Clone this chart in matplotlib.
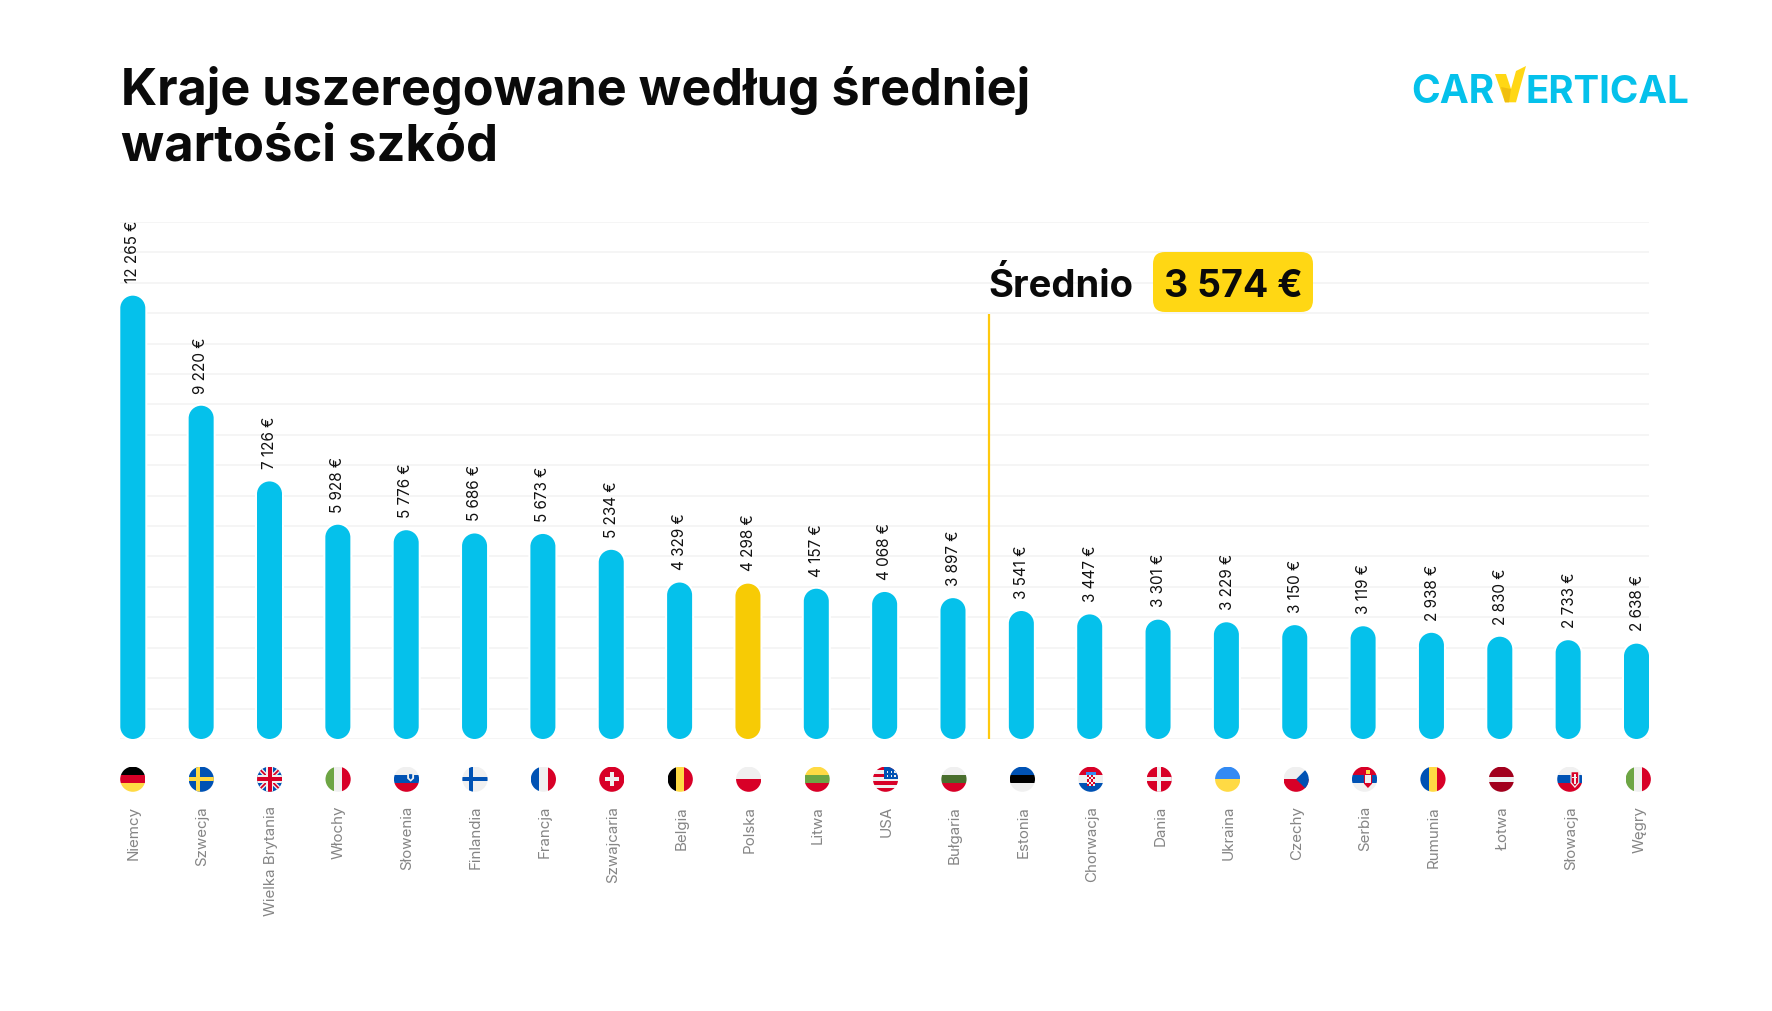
import numpy as np
import matplotlib
matplotlib.use("Agg")
import matplotlib.pyplot as plt
from matplotlib.patches import FancyBboxPatch, Rectangle, Circle, Polygon, PathPatch
from matplotlib.path import Path
from matplotlib.transforms import ScaledTranslation
import matplotlib.patheffects as pe

plt.rcParams['font.family'] = ['Inter', 'DejaVu Sans']

countries = ["Niemcy", "Szwecja", "Wielka Brytania", "Włochy", "Słowenia", "Finlandia", "Francja",
             "Szwajcaria", "Belgia", "Polska", "Litwa", "USA", "Bułgaria", "Estonia", "Chorwacja",
             "Dania", "Ukraina", "Czechy", "Serbia", "Rumunia", "Łotwa", "Słowacja", "Węgry"]
values = [12265, 9220, 7126, 5928, 5776, 5686, 5673, 5234, 4329, 4298, 4157, 4068, 3897,
          3541, 3447, 3301, 3229, 3150, 3119, 2938, 2830, 2733, 2638]
highlight = "Polska"
average_label = "Średnio"
average_value = 3574
flag_keys = ["de", "se", "gb", "it", "si", "fi", "fr", "ch", "be", "pl", "lt", "us", "bg",
             "ee", "hr", "dk", "ua", "cz", "rs", "ro", "lv", "sk", "it"]

W, H = 1772, 1012
CYAN, GOLD, YEL = "#05C1EB", "#F7CB05", "#FFD714"
RED, BLU, WHT, YLW, GRN = "#D80027", "#0052B4", "#F0F0F0", "#FFDA44", "#6DA544"
BLK, DGR, MAR, LBL = "#000000", "#496E2D", "#A2001D", "#338AF3"

fig = plt.figure(figsize=(W / 100, H / 100), dpi=100, facecolor="white")


def px_axes(l, t, r, b):
    return [l / W, 1 - b / H, (r - l) / W, (b - t) / H]


# main chart
L, R, T, B = 120.3, 1649.0, 222.9, 740.0
STEP = 841.5
DRIFT = 0.058  # points per category, labels and flags run slightly wider than bars
ax = fig.add_axes(px_axes(L, T, R, B))
n = len(values)
hw = 12.5 / 68.35
ax.set_xlim(-hw, n - 1 + hw)
ax.set_ylim(0, 17 * STEP)
ax.set_facecolor("none")
for s in ax.spines.values():
    s.set_visible(False)
ax.set_yticks(np.arange(18) * STEP)
ax.set_yticklabels([])
ax.yaxis.grid(True, color="#F3F3F3", lw=1.1)
ax.set_axisbelow(True)
ax.tick_params(axis="both", length=0)
ax.set_xticks(range(n))
ax.set_xticklabels(countries, rotation=90, ha="center", va="top", fontsize=10.9, color="#858585")
ax.tick_params(axis="x", pad=47.5)
for i, lab in enumerate(ax.get_xticklabels()):
    lab.set_transform(lab.get_transform() + ScaledTranslation((0.7 + i * DRIFT) / 72, 0, fig.dpi_scale_trans))

ppu = (B - T) / (17 * STEP)
ry = 12.5 / ppu


def pill(x, v):
    top = Path.arc(0, 180)
    bot = Path.arc(180, 360)
    tv = top.vertices * [hw, ry] + [x, v - ry]
    bv = bot.vertices * [hw, ry] + [x, ry]
    verts = np.vstack([tv, bv, tv[:1]])
    bc = bot.codes.copy()
    bc[0] = Path.LINETO
    codes = np.concatenate([top.codes, bc, [Path.CLOSEPOLY]])
    return Path(verts, codes)


for i, (c, v) in enumerate(zip(countries, values)):
    p = PathPatch(pill(i, v), fc=GOLD if c == highlight else CYAN, ec="none", zorder=3,
                  path_effects=[pe.withStroke(linewidth=3, foreground="white")])
    ax.add_patch(p)
    label = f"{v:,} €".replace(",", " ")
    ax.annotate(label, (i, v), xytext=(-0.4 + i * DRIFT, 9.5), textcoords="offset points", rotation=90,
                ha="center", va="bottom", fontsize=11, color="#111111", zorder=4)

# average line
AVG_X = 12.52
ax.plot([AVG_X, AVG_X], [0, (B - 315) / ppu], color="#FFC90E", lw=1.6, zorder=2, solid_capstyle="butt")

# overlay in pixel coordinates
ov = fig.add_axes([0, 0, 1, 1], zorder=5)
ov.set_xlim(0, W)
ov.set_ylim(H, 0)
ov.axis("off")
ov.patch.set_alpha(0)

ov.text(121, 104.5, "Kraje uszeregowane według średniej", fontsize=36.2, fontweight="bold", color="#0A0A0A", va="baseline")
ov.text(121, 160.5, "wartości szkód", fontsize=36.6, fontweight="bold", color="#0A0A0A", va="baseline")

ov.text(988, 297.3, average_label, fontsize=27.5, fontweight="bold", color="#0A0A0A", va="baseline")
ov.add_patch(FancyBboxPatch((1153 + 12, 253 + 12), 160 - 24, 60 - 24, boxstyle="round,pad=12,rounding_size=12",
                            fc=YEL, ec="none"))
ov.text(1233.5, 297.3, f"{average_value:,} €".replace(",", " "), fontsize=27, fontweight="bold", color="#0A0A0A",
        ha="center", va="baseline")

# logo
LOGO = "#05C1EB"
ov.text(1411, 103.3, "CAR", fontsize=28, fontweight="bold", color=LOGO, va="baseline")
ov.text(1526, 103.3, "ERTICAL", fontsize=27.7, fontweight="bold", color=LOGO, va="baseline")
ov.add_patch(Polygon([(1495, 75), (1506, 75), (1511, 90), (1516, 72), (1526, 67), (1516, 103.3), (1505, 103.3)],
                     fc=YEL, ec="none"))
ov.add_patch(Polygon([(1501, 88), (1511, 90), (1509, 103.3), (1505, 103.3)], fc="#F0BE10", ec="none"))


# flags
def draw_flag(key, cx, cy, r=12.6):
    items = []

    def rect(u0, v0, u1, v1, c):
        items.append(Rectangle((cx + u0 * r, cy + v0 * r), (u1 - u0) * r, (v1 - v0) * r, fc=c, ec="none"))

    def poly(pts, c):
        items.append(Polygon([(cx + a * r, cy + b * r) for a, b in pts], fc=c, ec="none"))

    def hs(*cols):
        e = np.linspace(-1, 1, len(cols) + 1)
        for k, c in enumerate(cols):
            rect(-1, e[k], 1, e[k + 1], c)

    def vs(*cols):
        e = np.linspace(-1, 1, len(cols) + 1)
        for k, c in enumerate(cols):
            rect(e[k], -1, e[k + 1], 1, c)

    if key == "de":
        hs(BLK, RED, YLW)
    elif key == "se":
        hs(BLU)
        rect(-0.45, -1, -0.1, 1, YLW)
        rect(-1, -0.17, 1, 0.17, YLW)
    elif key == "gb":
        hs(BLU)
        poly([(-1, -.75), (-.75, -1), (1, .75), (.75, 1)], WHT)
        poly([(1, -.75), (.75, -1), (-1, .75), (-.75, 1)], WHT)
        poly([(-1, -.9), (-.9, -1), (1, .9), (.9, 1)], RED)
        poly([(1, -.9), (.9, -1), (-1, .9), (-.9, 1)], RED)
        rect(-.3, -1, .3, 1, WHT)
        rect(-1, -.3, 1, .3, WHT)
        rect(-.17, -1, .17, 1, RED)
        rect(-1, -.17, 1, .17, RED)
    elif key == "it":
        vs(GRN, WHT, RED)
    elif key == "si":
        hs(WHT, BLU, RED)
        poly([(.05, -.5), (.6, -.5), (.6, -.05), (.33, .2), (.05, -.05)], WHT)
        poly([(.2, -.4), (.45, -.4), (.45, -.1), (.33, .03), (.2, -.1)], BLU)
    elif key == "fi":
        hs(WHT)
        rect(-.45, -1, -.12, 1, BLU)
        rect(-1, -.16, 1, .16, BLU)
    elif key == "fr":
        vs(BLU, WHT, RED)
    elif key == "ch":
        hs(RED)
        rect(-.17, -.55, .17, .55, WHT)
        rect(-.55, -.17, .55, .17, WHT)
    elif key == "be":
        vs(BLK, YLW, RED)
    elif key == "pl":
        hs(WHT, RED)
    elif key == "lt":
        hs(YLW, GRN, RED)
    elif key == "us":
        e = np.linspace(-1, 1, 8)
        for k in range(7):
            rect(-1, e[k], 1, e[k + 1], RED if k % 2 == 0 else WHT)
        rect(-.1, -1, 1, .0, BLU)
        for a in (.1, .4, .7):
            for b in (-.65, -.3):
                rect(a, b, a + .12, b + .12, WHT)
    elif key == "bg":
        hs(WHT, DGR, RED)
    elif key == "ee":
        hs(BLU, BLK, WHT)
    elif key == "hr":
        hs(RED, WHT, BLU)
        rect(-.33, -.35, .33, .55, WHT)
        for a in range(4):
            for b in range(5):
                if (a + b) % 2 == 0:
                    rect(-.33 + a * .165, -.35 + b * .18, -.165 + a * .165, -.17 + b * .18, RED)
        rect(-.4, -.6, .4, -.36, LBL)
    elif key == "dk":
        hs(RED)
        rect(-.2, -1, .1, 1, WHT)
        rect(-1, -.15, 1, .15, WHT)
    elif key == "ua":
        hs(LBL, YLW)
    elif key == "cz":
        hs(WHT, RED)
        poly([(1.1, -1.1), (1.1, 1.1), (0, 0)], BLU)
    elif key == "rs":
        hs(RED, BLU, WHT)
        poly([(-.05, -.45), (.6, -.45), (.6, .35), (.27, .7), (-.05, .35)], RED)
        rect(.02, -.3, .52, .3, WHT)
        rect(.12, -.75, .42, -.45, YLW)
    elif key == "ro":
        vs(BLU, YLW, RED)
    elif key == "lv":
        hs(MAR, MAR, WHT, MAR, MAR)
    elif key == "sk":
        hs(WHT, BLU, RED)
        poly([(.05, -.65), (.75, -.65), (.75, .3), (.4, .7), (.05, .3)], WHT)
        poly([(.14, -.55), (.66, -.55), (.66, .25), (.4, .55), (.14, .25)], RED)
        rect(.34, -.45, .46, .35, WHT)
        rect(.2, -.2, .6, -.08, WHT)
    clip = Circle((cx, cy), r, transform=ov.transData)
    for it in items:
        ov.add_patch(it)
        it.set_clip_path(clip)


for i, key in enumerate(flag_keys):
    xpx = ax.transData.transform((i, 0))[0] + i * 0.08
    draw_flag(key, xpx, 780.2)

fig.savefig("out.png", dpi=100, facecolor="white")
